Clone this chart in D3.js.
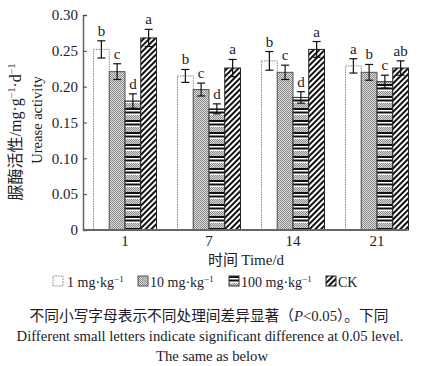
<!DOCTYPE html>
<html>
<head>
<meta charset="utf-8">
<script src="https://cdn.jsdelivr.net/npm/d3@7"></script>
<style>
  body { margin: 0; background: #fff; }
  svg { display: block; }
</style>
</head>
<body>
<div id="chart"></div>
<script>
const days = ["1", "7", "14", "21"];
const series = ["1 mg", "10 mg", "100 mg", "CK"];
const seriesUnits = ["1", "10", "100", null];
// urease activity, one array per series (days 1, 7, 14, 21)
const val1mg   = [0.252, 0.215, 0.236, 0.229];
const val10mg  = [0.221, 0.196, 0.220, 0.220];
const val100mg = [0.180, 0.169, 0.185, 0.207];
const valCK    = [0.268, 0.226, 0.252, 0.226];
const err1mg   = [0.012, 0.009, 0.013, 0.010];
const err10mg  = [0.011, 0.009, 0.010, 0.011];
const err100mg = [0.010, 0.007, 0.008, 0.009];
const errCK    = [0.012, 0.012, 0.011, 0.010];
const let1mg   = ["b", "b", "b", "a"];
const let10mg  = ["c", "c", "c", "b"];
const let100mg = ["d", "d", "d", "c"];
const letCK    = ["a", "a", "a", "ab"];
const yTicks = [0, 0.05, 0.10, 0.15, 0.20, 0.25, 0.30];

const vals = [val1mg, val10mg, val100mg, valCK];
const errs = [err1mg, err10mg, err100mg, errCK];
const lets = [let1mg, let10mg, let100mg, letCK];

const data = [];
days.forEach((d, i) => {
    series.forEach((s, j) => {
        data.push({day: d, s: s, j: j, v: vals[j][i], e: errs[j][i], l: lets[j][i]});
    });
});

const W = 433, H = 366;
const serif = "'Liberation Serif', 'DejaVu Serif', serif";
const cjk = "'Noto Sans CJK SC', sans-serif";
const ink = "#1b1b2a";

const svg = d3.select("#chart")
    .append("svg")
    .attr("width", W)
    .attr("height", H);

// patterns
const defs = svg.append("defs");

const grey = defs.append("pattern")
    .attr("id", "grey")
    .attr("width", 2).attr("height", 2)
    .attr("patternUnits", "userSpaceOnUse");
grey.append("rect").attr("width", 2).attr("height", 2).attr("fill", "#dcdcdc");
grey.append("rect").attr("width", 1).attr("height", 1).attr("fill", "#8a8a8a");
grey.append("rect").attr("x", 1).attr("y", 1).attr("width", 1).attr("height", 1).attr("fill", "#8a8a8a");

const hstripe = defs.append("pattern")
    .attr("id", "hstripe")
    .attr("width", 4).attr("height", 12)
    .attr("patternUnits", "userSpaceOnUse");
hstripe.append("rect").attr("width", 4).attr("height", 12).attr("fill", "#fff");
hstripe.append("rect").attr("y", 0).attr("width", 4).attr("height", 2).attr("fill", "#111");
hstripe.append("rect").attr("y", 3.5).attr("width", 4).attr("height", 2).attr("fill", "#111");
hstripe.append("rect").attr("y", 7).attr("width", 4).attr("height", 5).attr("fill", "url(#grey)");

const diag = defs.append("pattern")
    .attr("id", "diag")
    .attr("width", 4).attr("height", 4)
    .attr("patternUnits", "userSpaceOnUse")
    .attr("patternTransform", "rotate(45)");
diag.append("rect").attr("width", 4).attr("height", 4).attr("fill", "#fff");
diag.append("rect").attr("width", 2).attr("height", 4).attr("fill", "#111");

const fills = ["#fff", "url(#grey)", "url(#hstripe)", "url(#diag)"];
const strokes = ["#888", "#555", "#333", "#222"];

// scales
const x0 = d3.scaleBand()
    .domain(days)
    .range([83, 419])
    .paddingInner(0.25)
    .paddingOuter(0.125);

const x1 = d3.scaleBand()
    .domain(series)
    .range([0, x0.bandwidth()]);

const y = d3.scaleLinear()
    .domain([0, 0.30])
    .range([230, 15]);

// bars
const g = svg.append("g");

g.selectAll(".bar")
    .data(data)
    .enter()
    .append("rect")
    .attr("class", "bar")
    .attr("x", d => x0(d.day) + x1(d.s))
    .attr("y", d => y(d.v))
    .attr("width", x1.bandwidth())
    .attr("height", d => y(0) - y(d.v))
    .attr("fill", d => fills[d.j])
    .attr("stroke", d => strokes[d.j])
    .attr("stroke-width", 1)
    .attr("stroke-dasharray", d => d.j === 0 ? "1.5,1" : null);

// error bars
const eb = g.selectAll(".err")
    .data(data)
    .enter()
    .append("g")
    .attr("class", "err")
    .attr("transform", d => `translate(${x0(d.day) + x1(d.s) + x1.bandwidth() / 2},0)`)
    .attr("stroke", "#111")
    .attr("stroke-width", 1.2);

eb.append("line")
    .attr("y1", d => y(d.v + d.e))
    .attr("y2", d => y(d.v - d.e));
eb.append("line")
    .attr("x1", -4).attr("x2", 4)
    .attr("y1", d => y(d.v + d.e))
    .attr("y2", d => y(d.v + d.e));
eb.append("line")
    .attr("x1", -4).attr("x2", 4)
    .attr("y1", d => y(d.v - d.e))
    .attr("y2", d => y(d.v - d.e));

// significance letters
g.selectAll(".sig")
    .data(data)
    .enter()
    .append("text")
    .attr("class", "sig")
    .attr("x", d => x0(d.day) + x1(d.s) + x1.bandwidth() / 2)
    .attr("y", d => y(d.v + d.e) - 5)
    .attr("text-anchor", "middle")
    .style("font-family", serif)
    .style("font-size", "15px")
    .style("fill", ink)
    .text(d => d.l);

// y axis
const yAxis = svg.append("g")
    .attr("transform", "translate(83,0)")
    .call(d3.axisLeft(y)
        .tickValues(yTicks)
        .tickSize(-4)
        .tickPadding(5)
        .tickFormat(d => d === 0 ? "0" : d3.format(".2f")(d)));
yAxis.select(".domain").attr("stroke", "#666").attr("stroke-width", 1.5);
yAxis.selectAll(".tick line").attr("stroke", "#444");
yAxis.selectAll("text")
    .style("font-family", serif)
    .style("font-size", "15px")
    .style("fill", ink);

// x axis
const xAxis = svg.append("g")
    .attr("transform", "translate(0,230)")
    .call(d3.axisBottom(x0).tickSize(0).tickPadding(5));
xAxis.select(".domain").remove();
xAxis.selectAll("text")
    .style("font-family", serif)
    .style("font-size", "15px")
    .style("fill", ink);

svg.append("line")
    .attr("x1", 83).attr("x2", 407)
    .attr("y1", 230).attr("y2", 230)
    .attr("stroke", "#666")
    .attr("stroke-width", 2);

// axis titles
svg.append("text")
    .attr("x", 246)
    .attr("y", 265)
    .attr("text-anchor", "middle")
    .style("font-size", "15px")
    .style("fill", ink)
    .call(t => {
        t.append("tspan").style("font-family", cjk).text("时间 ");
        t.append("tspan").style("font-family", serif).text("Time/d");
    });

const yl = svg.append("text")
    .attr("transform", "translate(21,132) rotate(-90)")
    .attr("text-anchor", "middle")
    .style("font-size", "16px")
    .style("fill", ink);
yl.append("tspan").style("font-family", cjk).text("脲酶活性");
yl.append("tspan").style("font-family", serif).text("/mg·g");
yl.append("tspan").style("font-family", serif).style("font-size", "10px").attr("dy", -6).text("−1");
yl.append("tspan").style("font-family", serif).attr("dy", 6).text("·d");
yl.append("tspan").style("font-family", serif).style("font-size", "10px").attr("dy", -6).text("−1");

svg.append("text")
    .attr("transform", "translate(42,120) rotate(-90)")
    .attr("text-anchor", "middle")
    .style("font-family", serif)
    .style("font-size", "14.5px")
    .style("fill", ink)
    .text("Urease activity");

// legend
const legX = [53, 138, 229, 326];
const leg = svg.selectAll(".leg")
    .data(series)
    .enter()
    .append("g")
    .attr("class", "leg")
    .attr("transform", (d, i) => `translate(${legX[i]},276)`);

leg.append("rect")
    .attr("width", 10).attr("height", 10)
    .attr("fill", (d, i) => fills[i])
    .attr("stroke", (d, i) => strokes[i])
    .attr("stroke-width", 1)
    .attr("stroke-dasharray", (d, i) => i === 0 ? "1.5,1" : null);

leg.append("text")
    .attr("x", (d, i) => i === 0 ? 14 : 12)
    .attr("y", 10.5)
    .style("font-family", serif)
    .style("font-size", "14px")
    .style("fill", ink)
    .each(function(d, i) {
        const t = d3.select(this);
        if (seriesUnits[i] === null) {
            t.text(d);
            return;
        }
        t.append("tspan").text(seriesUnits[i] + " mg·kg");
        t.append("tspan").style("font-size", "9px").attr("dy", -5).text("−1");
    });

// caption
svg.append("text")
    .attr("x", 209)
    .attr("y", 321)
    .attr("text-anchor", "middle")
    .style("font-size", "14.7px")
    .style("fill", ink)
    .call(t => {
        t.append("tspan").style("font-family", cjk).text("不同小写字母表示不同处理间差异显著（");
        t.append("tspan").style("font-family", serif).style("font-style", "italic").text("P");
        t.append("tspan").style("font-family", serif).text("<0.05");
        t.append("tspan").style("font-family", cjk).text("）。下同");
    });

svg.append("text")
    .attr("x", 210)
    .attr("y", 341)
    .attr("text-anchor", "middle")
    .style("font-family", serif)
    .style("font-size", "14.7px")
    .style("fill", ink)
    .text("Different small letters indicate significant difference at 0.05 level.");

svg.append("text")
    .attr("x", 212)
    .attr("y", 361)
    .attr("text-anchor", "middle")
    .style("font-family", serif)
    .style("font-size", "14.7px")
    .style("fill", ink)
    .text("The same as below");
</script>
</body>
</html>
